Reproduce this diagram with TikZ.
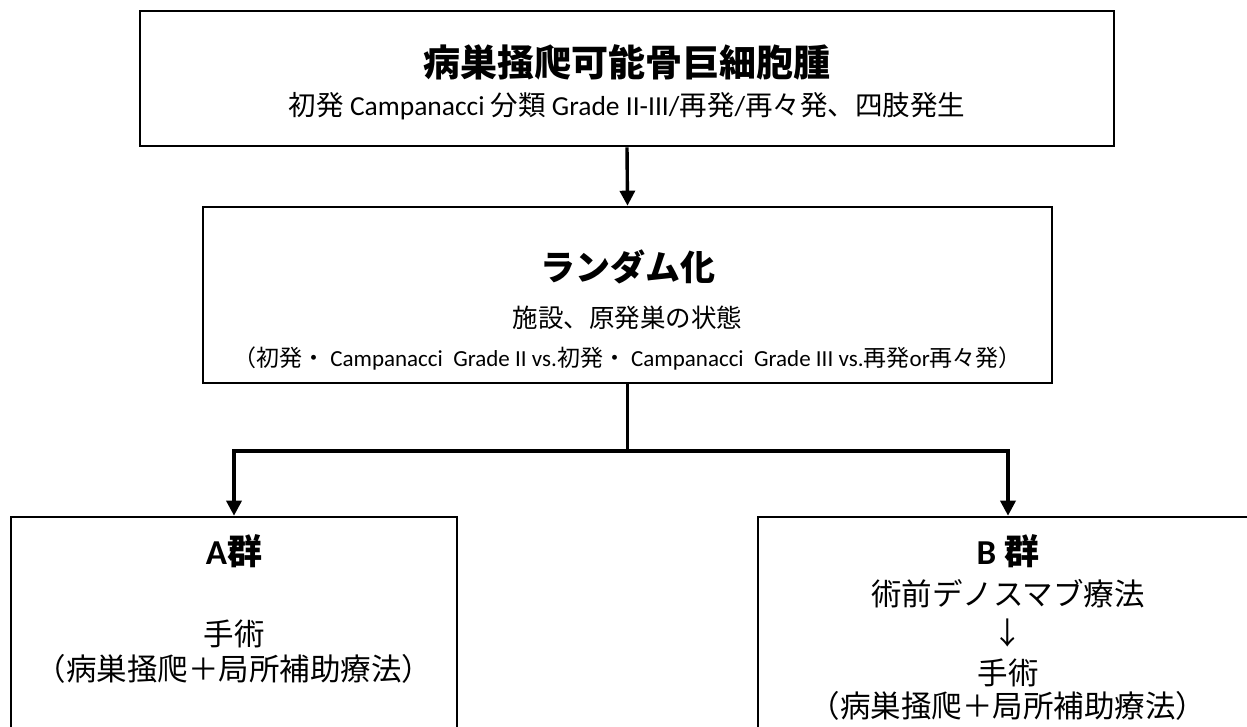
\documentclass[tikz,border=0pt]{standalone}
\usepackage{fontspec}
\setmainfont{Carlito}
\newfontfamily\jp{Noto Sans CJK JP}
\newfontfamily\lat{Carlito}
\usetikzlibrary{arrows.meta, positioning}
\tikzset{every node/.style={font=\jp}}

\begin{document}
\begin{tikzpicture}[x=1pt, y=-1pt,
    flowbox/.style={draw, line width=2.6pt, inner sep=0pt},
    flowline/.style={line width=3.4pt},
    flowarrow/.style={line width=3.4pt, -{Triangle[length=15pt, width=15pt]}},
    headtxt/.style={inner sep=0pt, font=\jp\bfseries\fontsize{37}{44}\selectfont},
    subtxt/.style={inner sep=0pt, font=\jp\fontsize{27.5}{32}\selectfont},
    midtxt/.style={inner sep=0pt, font=\jp\fontsize{25.5}{30}\selectfont},
    smalltxt/.style={inner sep=0pt, font=\jp\fontsize{23}{28}\selectfont},
    armtxt/.style={inner sep=0pt, font=\jp\bfseries\fontsize{35}{42}\selectfont},
    bodytxt/.style={inner sep=0pt, font=\jp\fontsize{30.5}{36}\selectfont}]
  \useasboundingbox (0,0) rectangle (1247,726);

  % boxes
  \node[flowbox, minimum width=974pt, minimum height=135pt] (topbox) at (627,78.5) {};
  \node[flowbox, minimum width=849pt, minimum height=176pt] (midbox) at (627.5,295) {};
  \node[flowbox, minimum width=446pt, minimum height=243pt] (armA) at (234,638.5) {};
  \node[flowbox, minimum width=500pt, minimum height=243pt] (armB) at (1008,638.5) {};

  % texts
  \node[headtxt] (toptitle) at (627,62) {病巣掻爬可能骨巨細胞腫};
  \node[subtxt] (topsub) at (627,106) {初発 {\lat Campanacci} 分類 {\lat Grade II-III/}再発{\lat /}再々発、四肢発生};
  \node[font=\jp\bfseries\fontsize{35}{42}\selectfont, inner sep=0pt] (midtitle) at (627.5,267) {ランダム化};
  \node[midtxt] (midsub) at (627.5,318) {施設、原発巣の状態};
  \node[smalltxt] (midnote) at (627.5,359) {（初発・ {\lat Campanacci\ \ Grade II vs.}初発・ {\lat Campanacci\ \ Grade III vs.}再発{\lat or}再々発）};

  \node[armtxt] (Atitle) at (234,551) {{\lat A}群};
  \node[bodytxt] (Aop) at (234,634) {手術};
  \node[bodytxt] (Anote) at (234,669) {（病巣掻爬＋局所補助療法）};

  \node[armtxt] (Btitle) at (1008,551) {{\lat B} 群};
  \node[bodytxt] (Bdeno) at (1008,594) {術前デノスマブ療法};
  \node[bodytxt] (Bdown) at (1008,633) {↓};
  \node[bodytxt] (Bop) at (1008,673) {手術};
  \node[bodytxt] (Bnote) at (1008,706) {（病巣掻爬＋局所補助療法）};

  % connectors
  \coordinate (split) at (627.5,451);
  \draw[flowarrow] (topbox.south) -- (midbox.north);
  \draw[flowline] (midbox.south) -- (split);
  \draw[flowarrow] (split) -| (armA.north);
  \draw[flowarrow] (split) -| (armB.north);
\end{tikzpicture}
\end{document}
